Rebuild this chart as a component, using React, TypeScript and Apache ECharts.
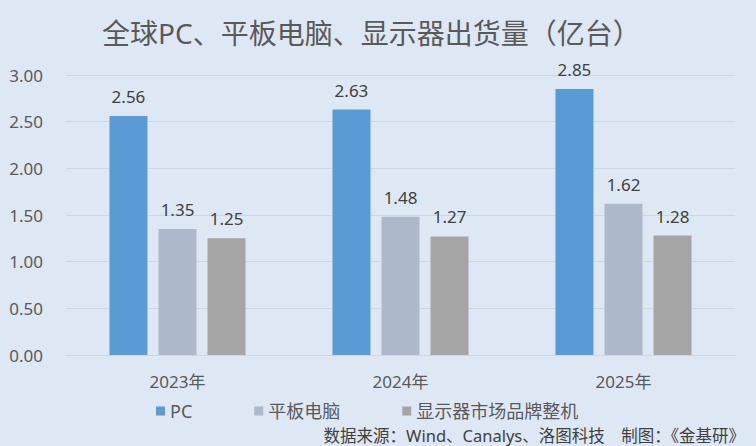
import React, { useEffect, useRef } from "react";
import * as echarts from "echarts";

const categories = ["2023年", "2024年", "2025年"];
const seriesNames = ["PC", "平板电脑", "显示器市场品牌整机"];
const pcValues = [2.56, 2.63, 2.85];
const tabletValues = [1.35, 1.48, 1.62];
const displayValues = [1.25, 1.27, 1.28];
const yTicks = { min: 0, max: 3, interval: 0.5 };
const titleText = "全球PC、平板电脑、显示器出货量（亿台）";
const sourceText = "数据来源：Wind、Canalys、洛图科技　制图：《金基研》";

const FONT = "'Noto Sans', 'Noto Sans CJK SC', sans-serif";
const colors = ["#5b9bd5", "#adb9ca", "#a5a5a5"];

export default function App() {
  const ref = useRef<HTMLDivElement>(null);
  useEffect(() => {
    document.body.style.margin = "0";
    const chart = echarts.init(ref.current!, null, { renderer: "svg" });
    const values = [pcValues, tabletValues, displayValues];
    chart.setOption({
      animation: false,
      backgroundColor: "#dee8f4",
      title: {
        text: titleText,
        left: 97,
        top: 14,
        textStyle: { fontFamily: FONT, fontSize: 28, fontWeight: "normal", color: "#595959" },
      },
      legend: {
        left: 156,
        top: 401,
        padding: 0,
        icon: "rect",
        itemWidth: 9,
        itemHeight: 9,
        itemGap: 62,
        textStyle: { fontFamily: FONT, fontSize: 18, lineHeight: 20, color: "#595959" },
        data: seriesNames,
      },
      grid: { left: 66, right: 21, top: 75, bottom: 91, containLabel: false },
      xAxis: {
        type: "category",
        data: categories,
        axisTick: { show: false },
        axisLine: { show: true, lineStyle: { color: "#cdd7e2", width: 1 } },
        axisLabel: { margin: 18, fontFamily: FONT, fontSize: 17, color: "#595959" },
      },
      yAxis: {
        type: "value",
        min: yTicks.min,
        max: yTicks.max,
        interval: yTicks.interval,
        axisLine: { show: false },
        axisTick: { show: false },
        splitLine: { lineStyle: { color: "#cdd7e2", width: 1 } },
        axisLabel: {
          margin: 23,
          fontFamily: FONT,
          fontSize: 17,
          color: "#595959",
          formatter: (v: number) => v.toFixed(2),
        },
      },
      graphic: [
        {
          type: "text",
          right: 11,
          top: 427,
          style: { text: sourceText, font: `16.5px ${FONT}`, lineHeight: 17, fill: "#404040" },
        },
      ],
      series: seriesNames.map((name, i) => ({
        name,
        type: "bar",
        data: values[i],
        barWidth: 38,
        barGap: "29%",
        itemStyle: { color: colors[i] },
        label: {
          show: true,
          position: "top",
          distance: 11,
          fontFamily: FONT,
          fontSize: 17,
          color: "#404040",
          formatter: (p: any) => Number(p.value).toFixed(2),
        },
      })),
    });
    return () => chart.dispose();
  }, []);
  return <div ref={ref} style={{ width: 756, height: 446 }} />;
}
